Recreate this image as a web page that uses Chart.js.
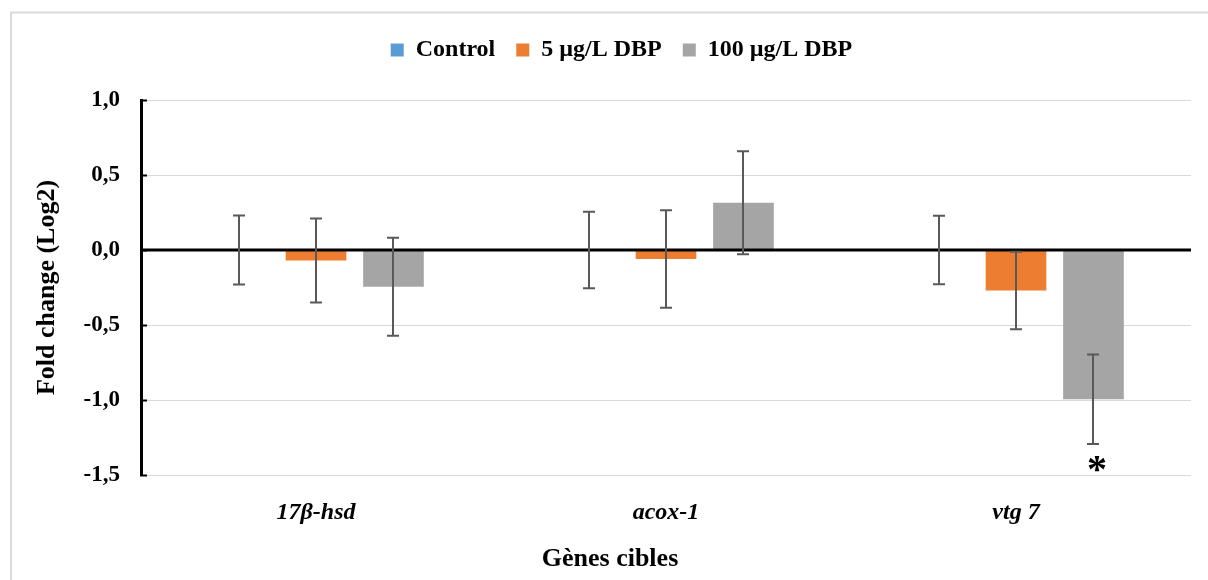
<!DOCTYPE html>
<html><head><meta charset="utf-8">
<script src="https://cdn.jsdelivr.net/npm/chart.js@4/dist/chart.umd.min.js"></script>
<style>html,body{margin:0;padding:0;background:#fff;} canvas{display:block;}</style>
</head><body>
<canvas id="c" width="1208" height="580"></canvas>
<script>
const categories = ['17β-hsd', 'acox-1', 'vtg 7'];
const seriesNames = ['Control', '5 µg/L DBP', '100 µg/L DBP'];
const controlValues = [0, 0, 0];
const dbp5Values = [-0.07, -0.06, -0.27];
const dbp100Values = [-0.245, 0.315, -0.995];
const controlErrors = [0.23, 0.255, 0.228];
const dbp5Errors = [0.28, 0.325, 0.258];
const dbp100Errors = [0.327, 0.343, 0.299];
const controlSignificance = ['', '', ''];
const dbp5Significance = ['', '', ''];
const dbp100Significance = ['', '', '*'];
const yTickValues = [-1.5, -1, -0.5, 0, 0.5, 1];
const yTickLabels = ['-1,5', '-1,0', '-0,5', '0,0', '0,5', '1,0'];

const SERIF = '"Liberation Serif", "Times New Roman", serif';
const seriesColors = ['#5B9BD5', '#ED7D31', '#A5A5A5'];
const errorSets = [controlErrors, dbp5Errors, dbp100Errors];
const sigSets = [controlSignificance, dbp5Significance, dbp100Significance];

const framePlugin = {
  id: 'frame',
  beforeDraw(chart) {
    const ctx = chart.ctx;
    ctx.save();
    ctx.strokeStyle = '#d9d9d9';
    ctx.lineWidth = 2;
    ctx.beginPath();
    ctx.moveTo(11, 700);
    ctx.lineTo(11, 12.5);
    ctx.lineTo(1300, 12.5);
    ctx.stroke();
    ctx.restore();
  }
};

const layoutTweak = {
  id: 'layoutTweak',
  beforeInit(chart) {
    const lg = chart.legend;
    const origFit = lg.fit;
    lg.fit = function () { origFit.call(this); this.height = 100; };
  },
  afterLayout(chart) {
    const lg = chart.legend;
    lg.left += 26; lg.right += 26; lg.top += 17; lg.bottom += 17;
    const tb = chart.titleBlock;
    if (tb) { tb.left += 14.5; tb.right += 14.5; }
  }
};

const errorBarPlugin = {
  id: 'errorBars',
  afterDatasetsDraw(chart) {
    const ctx = chart.ctx;
    const y = chart.scales.y;
    const area = chart.chartArea;
    ctx.save();
    const y0 = y.getPixelForValue(0);
    ctx.strokeStyle = '#000';
    ctx.lineWidth = 3;
    ctx.beginPath();
    ctx.moveTo(area.left, y0);
    ctx.lineTo(area.right, y0);
    ctx.stroke();
    ctx.strokeStyle = '#595959';
    ctx.lineWidth = 2;
    chart.data.datasets.forEach((ds, i) => {
      const meta = chart.getDatasetMeta(i);
      meta.data.forEach((el, j) => {
        const v = ds.data[j];
        const e = errorSets[i][j];
        const x = Math.round(el.x);
        const yt = y.getPixelForValue(v + e);
        const yb = y.getPixelForValue(v - e);
        ctx.beginPath();
        ctx.moveTo(x, yt); ctx.lineTo(x, yb);
        ctx.moveTo(x - 6, yt); ctx.lineTo(x + 6, yt);
        ctx.moveTo(x - 6, yb); ctx.lineTo(x + 6, yb);
        ctx.stroke();
        const s = sigSets[i][j];
        if (s) {
          ctx.fillStyle = '#000';
          ctx.font = 'bold 40px ' + SERIF;
          ctx.textAlign = 'center';
          ctx.textBaseline = 'alphabetic';
          ctx.fillText(s, x + 4, yb + 38);
        }
      });
    });
    ctx.restore();
  }
};

new Chart(document.getElementById('c'), {
  type: 'bar',
  data: {
    labels: categories,
    datasets: [
      { label: seriesNames[0], data: controlValues, backgroundColor: seriesColors[0], borderWidth: 0 },
      { label: seriesNames[1], data: dbp5Values, backgroundColor: seriesColors[1], borderWidth: 0 },
      { label: seriesNames[2], data: dbp100Values, backgroundColor: seriesColors[2], borderWidth: 0 }
    ]
  },
  options: {
    responsive: false,
    animation: false,
    devicePixelRatio: 1,
    categoryPercentage: 0.664,
    barPercentage: 0.783,
    layout: { padding: { left: 0, right: 17, top: 0, bottom: 0 } },
    plugins: {
      tooltip: { enabled: false },
      legend: {
        position: 'top',
        labels: {
          color: '#000',
          boxWidth: 13,
          boxHeight: 13,
          padding: 21,
          font: { family: SERIF, size: 24, weight: 'bold' }
        }
      },
      title: {
        display: true,
        position: 'bottom',
        text: 'Gènes cibles',
        color: '#000',
        padding: { top: 0, bottom: 5 },
        font: { family: SERIF, size: 26, weight: 'bold', lineHeight: 1.2 }
      }
    },
    scales: {
      x: {
        grid: { display: false },
        border: { display: false },
        ticks: {
          color: '#000',
          padding: 15,
          font: { family: SERIF, size: 24, weight: 'bold', style: 'italic' }
        },
        afterFit(scale) { scale.height = 68.8; }
      },
      y: {
        min: -1.5,
        max: 1.0,
        afterBuildTicks(scale) { scale.ticks = yTickValues.map(v => ({ value: v })); },
        ticks: {
          color: '#000',
          padding: 27,
          font: { family: SERIF, size: 23, weight: 'bold' },
          callback(value) {
            const k = yTickValues.indexOf(value);
            return k >= 0 ? yTickLabels[k] : '';
          }
        },
        grid: {
          color: ctx => (ctx.tick && ctx.tick.value === 0) ? '#000' : '#d9d9d9',
          lineWidth: 1,
          drawTicks: true,
          tickLength: -6,
          tickColor: '#000',
          tickWidth: 2
        },
        border: { display: true, color: '#000', width: 3 },
        title: {
          display: true,
          text: 'Fold change (Log2)',
          color: '#000',
          padding: { top: 32, bottom: 0 },
          font: { family: SERIF, size: 26, weight: 'bold', lineHeight: 1.2 }
        },
        afterFit(scale) { scale.width = 141; }
      }
    }
  },
  plugins: [framePlugin, layoutTweak, errorBarPlugin]
});
</script>
</body></html>
